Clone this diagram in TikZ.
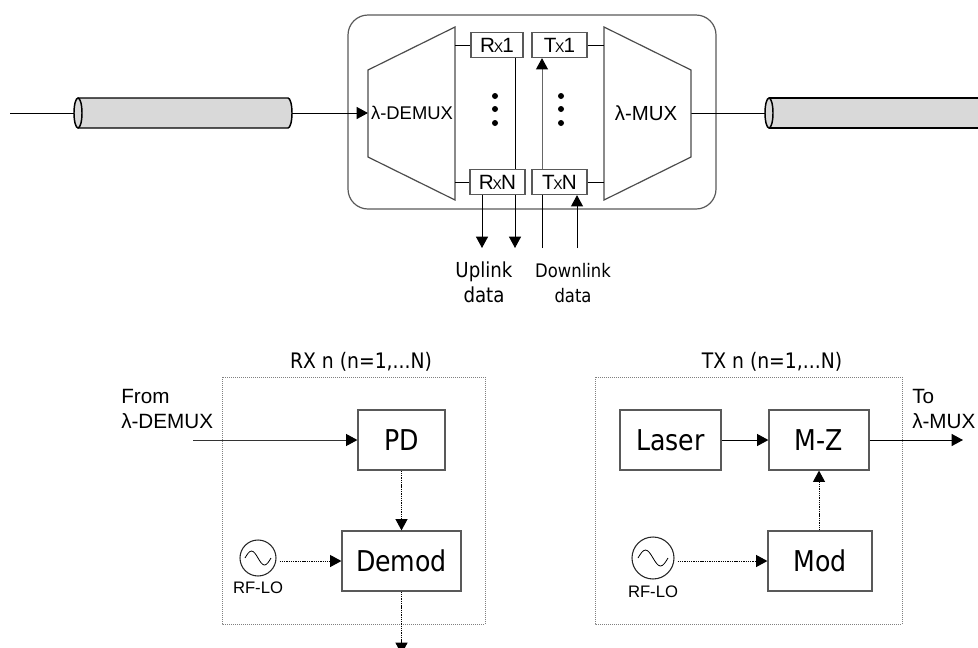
\documentclass[tikz,border=0pt]{standalone}
\usepackage{fontspec}
\setmainfont{Liberation Sans}
\newfontfamily\tahoma[FakeStretch=0.88]{DejaVu Sans}
\usetikzlibrary{arrows.meta}
\tikzset{
	x=0.75pt, y=-0.75pt,
	wire/.style = {line width=0.75pt},
	feed/.style = {wire, -{Triangle[length=8.5pt,width=9pt,black]}},
	dotfeed/.style = {feed, dash pattern=on 1pt off 0.7pt},
	port/.style 2 args = {draw=black!65, line width=0.9pt, fill=white, inner sep=0pt, minimum width=#1*0.75pt, minimum height=#2*0.75pt},
	unit/.style 2 args = {port={#1}{#2}, font=\tahoma\fontsize{21.5}{25}\selectfont},
	osc/.style = {draw=black!85, line width=0.8pt, circle, inner sep=0pt, minimum size=#1*1.5pt},
	hull/.style = {line width=0.9pt, draw=black!65},
	fibre/.style = {line width=1.1pt, fill=black!15},
	frame/.style = {line width=0.75pt, draw=black!50, dash pattern=on 0.75pt off 0.75pt},
	arial/.style = {font=\fontsize{#1}{18.75}\selectfont, align=left, inner sep=0pt},
	tah/.style = {font=\tahoma\fontsize{#1}{18.5}\selectfont, align=center, inner sep=0pt}
}
\newcommand{\portname}[2]{#1\kern-1pt{\fontsize{10.5}{12}\selectfont #2}\kern-0.6pt}
\begin{document}
\begin{tikzpicture}
	\clip (0,0) rectangle (978,647);
	\draw [hull, rounded corners=15pt] (348,15) rectangle (716,209);

	\coordinate (fibin) at (10,113);
	\coordinate (demuxin) at (368,113);
	\coordinate (demuxtop) at (455,45);
	\coordinate (demuxbot) at (455,182);
	\coordinate (muxtop) at (604,45);
	\coordinate (muxbot) at (604,182);
	\coordinate (muxout) at (691,113);
	\coordinate (fibout) at (765,113);

	\draw [wire] (fibin) to (74,113);
	\draw [wire] (292,113) to (340,113);
	\draw [feed] (340,113) to (demuxin);
	\draw [wire] (muxout) to (fibout);

	\draw [fibre] (78,98) to (288,98) arc (-90:90:4 and 15) to (78,128);
	\draw [fibre] (78,113) ellipse (4 and 15);
	\draw [fibre] (769,98) to (990,98) to (990,128) to (769,128);
	\draw [fibre] (769,113) ellipse (4 and 15);

	\draw [hull, black!70] (368,70) to (455,27) to (455,200) to (368,157) -- cycle;
	\draw [hull, black!70] (604,27) to (691,70) to (691,157) to (604,200) -- cycle;
	\node [arial=13.8] (demux) at (412,113) {λ-DEMUX};
	\node [arial=15.3] (mux) at (646,113) {λ-MUX};

	\node [port={52}{25}, arial=15.5] (rxa) at (497,45) {\portname{R}{X}1};
	\node [port={55}{25}, arial=15.5] (rxn) at (497.5,182) {\portname{R}{X}N};
	\node [port={55}{25}, arial=15.5] (txa) at (559.5,45) {\portname{T}{X}1};
	\node [port={55}{25}, arial=15.5] (txn) at (559.5,182) {\portname{T}{X}N};

	\draw [wire] (demuxtop) to (rxa);
	\draw [wire] (demuxbot) to (rxn);
	\draw [wire] (txa) to (muxtop);
	\draw [wire] (txn) to (muxbot);

	\coordinate (upa) at (482,248);
	\coordinate (upb) at (515,248);
	\coordinate (dna) at (542,248);
	\coordinate (dnb) at (577,248);
	\draw [wire] (rxa.south -| upb) to (rxn.north -| upb);
	\draw [feed] (rxn.south -| upa) to (upa);
	\draw [feed] (rxn.south -| upb) to (upb);
	\draw [wire] (dna) to (txn.south -| dna);
	\draw [feed, black!60] (txn.north -| dna) to (txa.south -| dna);
	\draw [feed] (dnb) to (txn.south -| dnb);

	\foreach \y in {96,109,123} {
		\fill (495,\y) circle (3);
		\fill (561,\y) circle (3);
	}

	\node [tah=15.5] (uplink) at (484,282) {Uplink\\data};
	\node [tah=14] (downlink) at (573,283) {Downlink\\data};

	\draw [frame] (222,377) rectangle (485,624);
	\draw [frame] (595,377) rectangle (902,624);
	\node [tah=16] (rxlabel) at (361,362) {RX n (n=1,...N)};
	\node [tah=16] (txlabel) at (772,362) {TX n (n=1,...N)};

	\node [unit={87}{60}] (pd) at (401.5,440) {PD};
	\node [unit={119}{60}] (demod) at (401.5,561) {Demod};
	\node [unit={101}{60}] (laser) at (670.5,440) {Laser};
	\node [unit={100}{60}] (mz) at (819,440) {M-Z};
	\node [unit={104}{60}] (mod) at (820,561) {Mod};

	\node [osc=18] (lorx) at (258,558) {};
	\node [osc=21] (lotx) at (653,558) {};
	\foreach \lo/\w/\h in {lorx/13/7, lotx/15/8} {
		\draw [line width=0.6pt] (\lo.center) ++(-\w,0) sin ++(0.5*\w,-\h) cos ++(0.5*\w,\h) sin ++(0.5*\w,\h) cos ++(0.5*\w,-\h);
	}
	\node [arial=12.5] (rflorx) at (258,588) {RF-LO};
	\node [arial=12.5] (rflotx) at (653,592) {RF-LO};

	\coordinate (rxin) at (193,440);
	\coordinate (rxout) at (401.5,654);
	\coordinate (txout) at (963,440);
	\draw [feed, black!80] (rxin) to (pd);
	\draw [dotfeed] (pd) to (demod);
	\draw [dotfeed] (lorx.east |- demod) ++(3,0) to (demod);
	\draw [dotfeed] (demod) to (rxout);
	\draw [feed] (laser) to (mz);
	\draw [feed] (mz) to (txout);
	\draw [dotfeed] (lotx.east |- mod) ++(3,0) to (mod);
	\draw [dotfeed] (mod.north -| mz) to (mz);

	\node [arial=15.5, anchor=north west] (fromlabel) at (121,389) {From\\λ-DEMUX};
	\node [arial=15.5, anchor=north west] (tolabel) at (912,389) {To\\λ-MUX};
\end{tikzpicture}
\end{document}
